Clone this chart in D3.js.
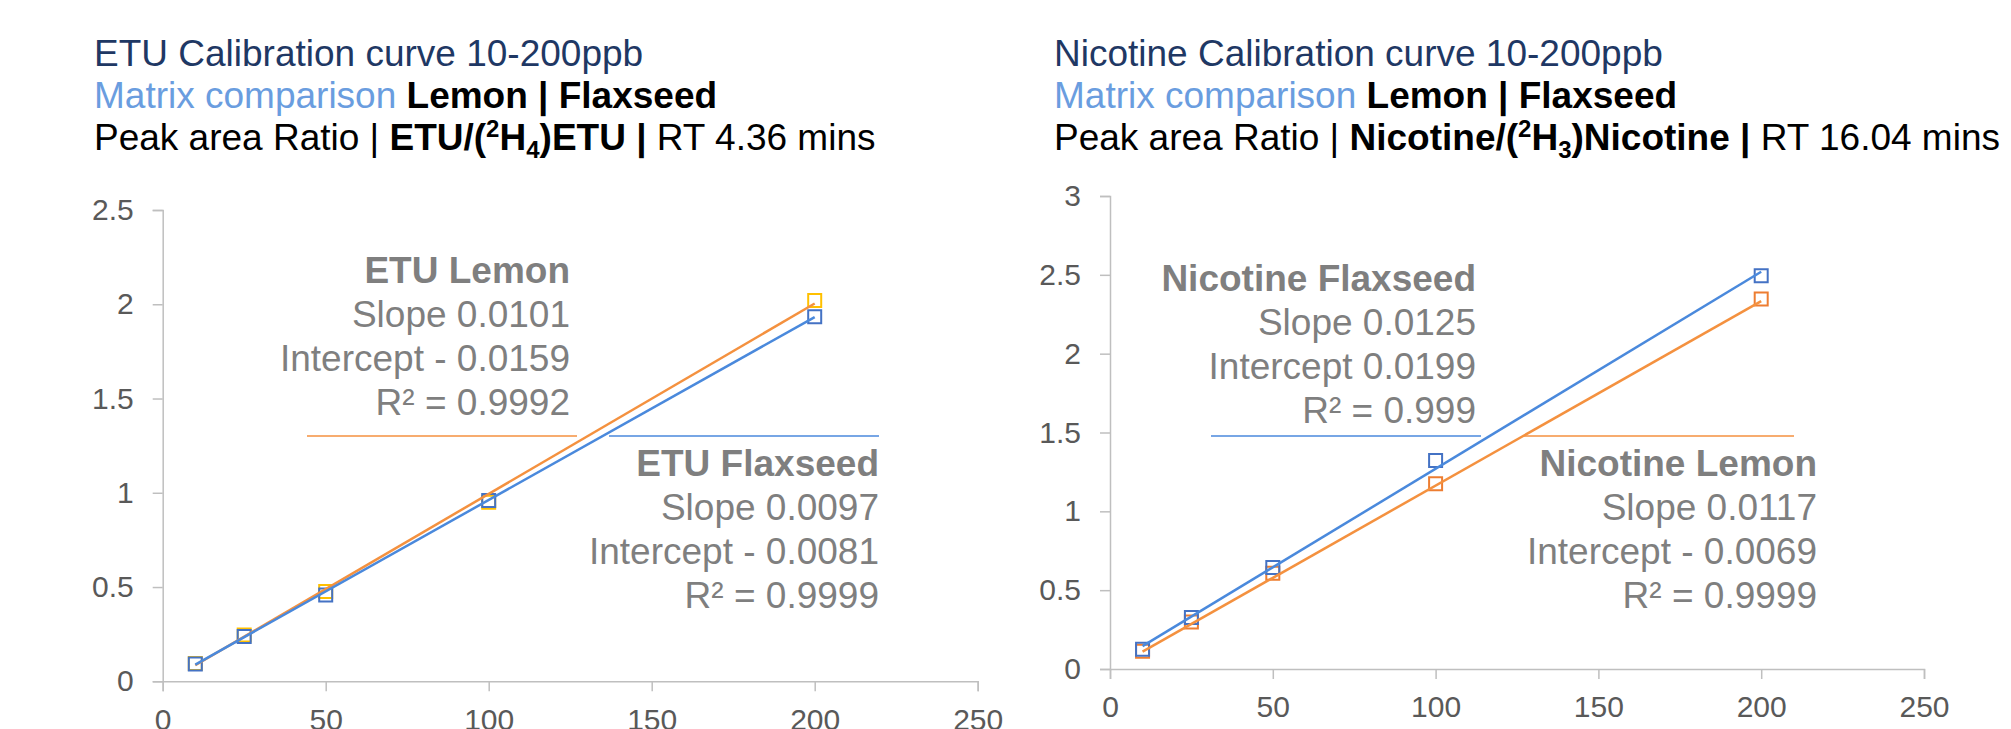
<!DOCTYPE html>
<html>
<head>
<meta charset="utf-8">
<script src="https://cdn.jsdelivr.net/npm/d3@7"></script>
<style>
  body { margin: 0; background: #fff; }
  svg { display: block; font-family: "Liberation Sans", Arial, sans-serif; }
  text { white-space: pre; }
</style>
</head>
<body>
<svg width="2011" height="729"></svg>
<script>
var svg = d3.select('svg');

// concentrations (ppb) and peak area ratios
var concentrations = [10, 25, 50, 100, 200];
var etuLemon = [0.094, 0.245, 0.477, 0.95, 2.02];
var etuFlaxseed = [0.092, 0.237, 0.458, 0.959, 1.934];
var nicotineLemon = [0.113, 0.298, 0.608, 1.175, 2.347];
var nicotineFlaxseed = [0.125, 0.327, 0.644, 1.322, 2.494];

// linear fits [slope, intercept, R²] as printed on the chart
var etuLemonFit = [0.0101, -0.0159, '0.9992'];
var etuFlaxseedFit = [0.0097, -0.0081, '0.9999'];
var nicotineFlaxseedFit = [0.0125, 0.0199, '0.999'];
var nicotineLemonFit = [0.0117, -0.0069, '0.9999'];

var xTicks = [0, 50, 100, 150, 200, 250];
var etuYTicks = [0, 0.5, 1, 1.5, 2, 2.5];
var nicotineYTicks = [0, 0.5, 1, 1.5, 2, 2.5, 3];

var fmt4 = d3.format('.4f');

function drawTitle(x, name, isotope, rt) {
  var g = svg.append('g').attr('font-size', 37);
  g.append('text').attr('x', x).attr('y', 66).attr('fill', '#1f3864')
    .text(name + ' Calibration curve 10-200ppb');

  var t2 = g.append('text').attr('x', x).attr('y', 108);
  t2.append('tspan').attr('fill', '#6a9ddf').text('Matrix comparison ');
  t2.append('tspan').attr('font-weight', 'bold').attr('fill', '#000').text('Lemon | Flaxseed');

  var t3 = g.append('text').attr('x', x).attr('y', 150).attr('fill', '#000');
  t3.append('tspan').text('Peak area Ratio | ');
  t3.append('tspan').attr('font-weight', 'bold').text(name + '/(');
  t3.append('tspan').attr('font-weight', 'bold').attr('font-size', 24).attr('dy', -13).text('2');
  t3.append('tspan').attr('font-weight', 'bold').attr('dy', 13).text('H');
  t3.append('tspan').attr('font-weight', 'bold').attr('font-size', 24).attr('dy', 8).text(isotope);
  t3.append('tspan').attr('font-weight', 'bold').attr('dy', -8).text(')' + name + ' |');
  t3.append('tspan').text(' RT ' + rt + ' mins');
}

function drawChart(opt) {
  var x = d3.scaleLinear().domain([0, 250]).range([opt.left, opt.right]);
  var y = d3.scaleLinear().domain([0, d3.max(opt.yTicks)]).range([opt.bottom, opt.top]);

  var gx = svg.append('g')
    .attr('transform', 'translate(0,' + opt.bottom + ')')
    .call(d3.axisBottom(x).tickValues(xTicks).tickSize(10).tickPadding(17).tickFormat(String));
  var gy = svg.append('g')
    .attr('transform', 'translate(' + opt.left + ',0)')
    .call(d3.axisLeft(y).tickValues(opt.yTicks).tickSize(10).tickPadding(19).tickFormat(String));

  [gx, gy].forEach(function(g){
    g.attr('font-size', 30).attr('font-family', null);
    g.select('.domain').attr('stroke', '#bfbfbf').attr('stroke-width', 1.5);
    g.selectAll('.tick line').attr('stroke', '#bfbfbf').attr('stroke-width', 1.5);
    g.selectAll('.tick text').attr('fill', '#595959');
  });

  // markers first, trendlines over them
  opt.series.forEach(function(s){
    svg.append('g').selectAll('path')
      .data(concentrations.map(function(c, i){ return [c, s.values[i]]; }))
      .join('path')
      .attr('d', d3.symbol(d3.symbolSquare, 169))
      .attr('transform', function(d){ return 'translate(' + x(d[0]) + ',' + y(d[1]) + ')'; })
      .attr('fill', 'none')
      .attr('stroke', s.marker)
      .attr('stroke-width', 2);
  });

  var line = d3.line().x(function(d){ return x(d[0]); }).y(function(d){ return y(d[1]); });
  opt.series.forEach(function(s){
    var ends = d3.extent(concentrations).map(function(c){ return [c, s.fit[0] * c + s.fit[1]]; });
    svg.append('path')
      .attr('d', line(ends))
      .attr('fill', 'none')
      .attr('stroke', s.trend)
      .attr('stroke-width', 2.5);
  });

  // trendline labels
  opt.series.forEach(function(s){
    var b = s.label;
    svg.append('line')
      .attr('x1', b.x1).attr('x2', b.x2)
      .attr('y1', 436).attr('y2', 436)
      .attr('stroke', s.trend).attr('stroke-width', 1.5);

    var icpt = s.fit[1] < 0 ? '- ' + fmt4(-s.fit[1]) : fmt4(s.fit[1]);
    var lines = [s.name, 'Slope ' + fmt4(s.fit[0]), 'Intercept ' + icpt, 'R² = ' + s.fit[2]];
    svg.append('g').selectAll('text')
      .data(lines)
      .join('text')
      .attr('x', b.tx)
      .attr('y', function(d, i){ return b.y + i * 44; })
      .attr('text-anchor', 'end')
      .attr('font-size', 37)
      .attr('font-weight', function(d, i){ return i == 0 ? 'bold' : null; })
      .attr('fill', '#7f7f7f')
      .text(function(d){ return d; });
  });
}

drawTitle(94, 'ETU', '4', '4.36');
drawTitle(1054, 'Nicotine', '3', '16.04');

drawChart({
  left: 162.7, right: 977.7, top: 210, bottom: 681.3,
  yTicks: etuYTicks,
  series: [
    {name: 'ETU Lemon', values: etuLemon, fit: etuLemonFit, marker: '#ffc000', trend: '#f4913f',
     label: {tx: 570, y: 283, x1: 307, x2: 577}},
    {name: 'ETU Flaxseed', values: etuFlaxseed, fit: etuFlaxseedFit, marker: '#4472c4', trend: '#4a89dc',
     label: {tx: 879, y: 476, x1: 609, x2: 879}}
  ]
});

drawChart({
  left: 1110, right: 1924, top: 196, bottom: 669,
  yTicks: nicotineYTicks,
  series: [
    {name: 'Nicotine Lemon', values: nicotineLemon, fit: nicotineLemonFit, marker: '#ed7d31', trend: '#f4913f',
     label: {tx: 1817, y: 476, x1: 1524, x2: 1794}},
    {name: 'Nicotine Flaxseed', values: nicotineFlaxseed, fit: nicotineFlaxseedFit, marker: '#4472c4', trend: '#4a89dc',
     label: {tx: 1476, y: 291, x1: 1211, x2: 1481}}
  ]
});
</script>
</body>
</html>
